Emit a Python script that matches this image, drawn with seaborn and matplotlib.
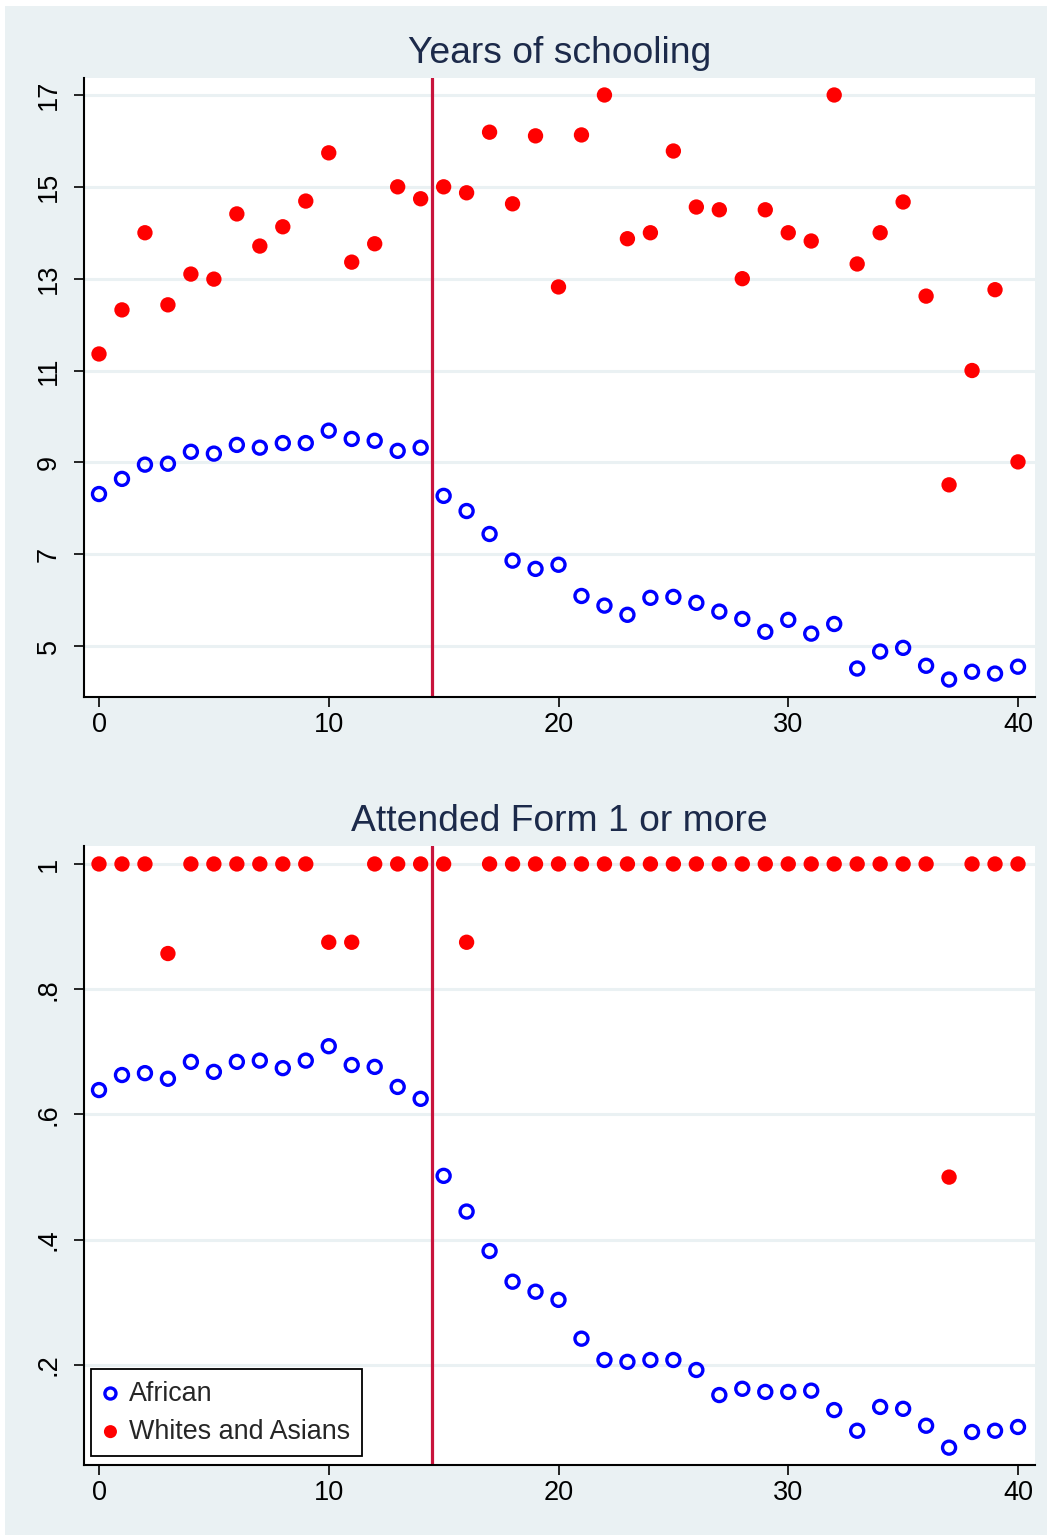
import numpy as np
import pandas as pd
import matplotlib
matplotlib.use("Agg")
import matplotlib.pyplot as plt
import seaborn as sns
from matplotlib.patches import Rectangle

# cohort index (x axis)
cohort = list(range(41))

# Years of schooling
years_african = [8.31, 8.64, 8.95, 8.97, 9.23, 9.19, 9.38, 9.32, 9.42, 9.42,
                 9.69, 9.51, 9.47, 9.25, 9.32, 8.27, 7.94, 7.44, 6.86, 6.68,
                 6.77, 6.09, 5.88, 5.68, 6.05, 6.07, 5.94, 5.75, 5.59, 5.31,
                 5.57, 5.27, 5.48, 4.51, 4.88, 4.96, 4.57, 4.27, 4.44, 4.40,
                 4.55]
years_white = [11.36, 12.32, 14.0, 12.43, 13.10, 12.99, 14.41, 13.71, 14.13, 14.69,
               15.74, 13.36, 13.76, 15.0, 14.74, 15.0, 14.87, 16.19, 14.63, 16.11,
               12.82, 16.13, 17.0, 13.87, 14.0, 15.78, 14.56, 14.50, 13.0, 14.50,
               14.0, 13.82, 17.0, 13.32, 14.0, 14.67, 12.62, 8.51, 11.0, 12.76,
               9.01]

# Attended Form 1 or more
form1_african = [0.639, 0.663, 0.666, 0.657, 0.684, 0.668, 0.684, 0.686, 0.674, 0.686,
                 0.709, 0.679, 0.676, 0.644, 0.625, 0.502, 0.445, 0.382, 0.333, 0.317,
                 0.304, 0.242, 0.208, 0.205, 0.208, 0.208, 0.192, 0.152, 0.162, 0.157,
                 0.157, 0.159, 0.128, 0.095, 0.133, 0.130, 0.103, 0.068, 0.093, 0.095,
                 0.101]
form1_white = [1, 1, 1, 0.857, 1, 1, 1, 1, 1, 1,
               0.875, 0.875, 1, 1, 1, 1, 0.875, 1, 1, 1,
               1, 1, 1, 1, 1, 1, 1, 1, 1, 1,
               1, 1, 1, 1, 1, 1, 1, 0.5, 1, 1,
               1]

cutoff = 14.5
groups = ["African", "Whites and Asians"]

bg = "#eaf1f3"
navy = "#1c2a4a"

sns.set_style("white")
plt.rcParams["font.family"] = ["Liberation Sans", "DejaVu Sans"]

W, H = 1047, 1537
fig = plt.figure(figsize=(W / 100, H / 100), dpi=100)
fig.patch.set_facecolor("white")
fig.patches.append(Rectangle((5 / W, 2 / H), 1 - 5 / W, 1 - 8 / H,
                             transform=fig.transFigure, facecolor=bg,
                             edgecolor="none", zorder=-10))

ax1 = fig.add_axes([84 / W, 1 - 697 / H, 951 / W, 619 / H])
ax2 = fig.add_axes([84 / W, 1 - 1465 / H, 951 / W, 619 / H])

panels = [
    (ax1, years_african, years_white, "Years of schooling",
     [5, 7, 9, 11, 13, 15, 17], ["5", "7", "9", "11", "13", "15", "17"], (3.89, 17.37)),
    (ax2, form1_african, form1_white, "Attended Form 1 or more",
     [0.2, 0.4, 0.6, 0.8, 1.0], [".2", ".4", ".6", ".8", "1"], (0.0403, 1.0287)),
]

for ax, afr, wht, title, yt, ytl, ylim in panels:
    df = pd.DataFrame({"x": cohort * 2, "y": afr + wht,
                       "group": [groups[0]] * len(afr) + [groups[1]] * len(wht)})
    ax.set_facecolor("white")
    sub = df[df["group"] == groups[0]]
    sns.scatterplot(data=sub, x="x", y="y", ax=ax, marker="o", s=88,
                    facecolors="none", edgecolors="#0000ff", linewidth=2.4,
                    label=groups[0], zorder=3)
    sub = df[df["group"] == groups[1]]
    sns.scatterplot(data=sub, x="x", y="y", ax=ax, marker="o", s=122,
                    color="#ff0000", edgecolor="none", linewidth=0,
                    label=groups[1], zorder=3)
    ax.axvline(cutoff, color="#c8143c", linewidth=2.3, zorder=2)

    ax.set_xlim(-0.653, 40.74)
    ax.set_ylim(*ylim)
    ax.set_xticks([0, 10, 20, 30, 40])
    ax.set_yticks(yt)
    ax.set_yticklabels(ytl, rotation=90, va="center")
    ax.yaxis.grid(True, color=bg, linewidth=2.2)
    ax.xaxis.grid(False)
    ax.set_axisbelow(True)
    for side in ["top", "right"]:
        ax.spines[side].set_visible(False)
    for side in ["left", "bottom"]:
        ax.spines[side].set_color("black")
        ax.spines[side].set_linewidth(1.5)
    ax.tick_params(axis="both", direction="out", length=7, width=1.2,
                   colors="black", labelsize=19.5, left=True, bottom=True)
    ax.tick_params(axis="y", pad=9)
    ax.tick_params(axis="x", pad=4)
    ax.set_xlabel("")
    ax.set_ylabel("")
    ax.set_title(title, fontsize=26.8, color=navy, pad=10.5)
    if ax.get_legend() is not None:
        ax.get_legend().remove()

handles, labels = ax2.get_legend_handles_labels()
leg = ax2.legend(handles, labels, loc="lower left", bbox_to_anchor=(0.0074, 0.0145),
                 borderaxespad=0, fontsize=19.4, frameon=True, fancybox=False,
                 edgecolor="black", facecolor="white", framealpha=1,
                 handlelength=0.6, handletextpad=0.4, labelspacing=0.45,
                 borderpad=0.42, markerscale=0.85)
leg.get_frame().set_linewidth(1.3)

fig.savefig("out.png", dpi=100, facecolor=fig.get_facecolor())
